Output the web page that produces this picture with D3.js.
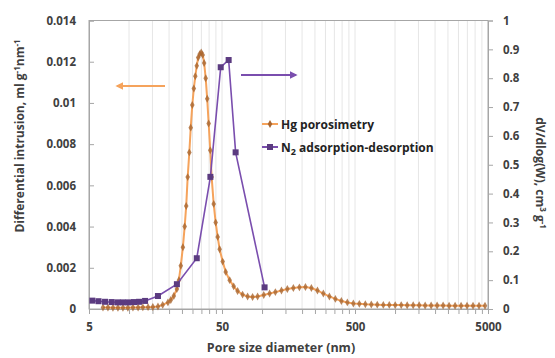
<!DOCTYPE html>
<html>
<head>
<meta charset="utf-8">
<script src="https://cdn.jsdelivr.net/npm/d3@7"></script>
<style>
  body { margin: 0; background: #fff; }
  text { font-family: "Open Sans", "DejaVu Sans", sans-serif; }
</style>
</head>
<body>
<div id="chart"></div>
<script>
// Hg porosimetry: pore diameter (nm) and differential intrusion (ml g-1 nm-1)
const hgDiameter = [6.37, 6.94, 7.57, 8.25, 9.0, 9.8, 10.7, 11.7, 12.7, 13.9, 15.1, 16.5, 17.9, 19.6,
  20.6, 21.7, 22.9, 23.7, 24.5, 25.4, 26.2, 26.9, 27.6, 28.4, 29.1, 29.9, 30.7, 31.5, 32.3, 33.1,
  34.0, 34.9, 35.8, 36.7, 37.7, 38.7, 39.7, 40.8, 41.8, 43.3, 44.8, 46.4, 48.0, 50.6, 53.3, 57.1,
  61.2, 65.5, 71.4, 77.9, 84.9, 92.6, 103, 114, 126, 140, 155, 172, 191, 212, 235, 261, 289, 321,
  356, 395, 438, 486, 539, 598, 663, 735, 816, 905, 1003, 1113, 1234, 1369, 1519, 1684, 1868,
  2072, 2299, 2550, 2828, 3137, 3479, 3859, 4280, 4747];
const hgIntrusion = [0.00007, 0.00007, 0.00006, 0.00006, 0.00006, 0.00006, 0.00007, 0.00007, 0.00008,
  0.00009, 0.0001, 0.00012, 0.0002, 0.00032, 0.00044, 0.00063, 0.00097, 0.0014, 0.0021, 0.003,
  0.004, 0.005, 0.0064, 0.0076, 0.0088, 0.0099, 0.0107, 0.0113, 0.0118, 0.0122, 0.01237, 0.01245,
  0.01233, 0.01194, 0.0112, 0.0102, 0.009, 0.0077, 0.0064, 0.0051, 0.0042, 0.0035, 0.0029, 0.0023,
  0.0018, 0.0014, 0.0011, 0.00087, 0.0007, 0.00061, 0.00058, 0.00061, 0.00068, 0.00075, 0.00082,
  0.0009, 0.00097, 0.00102, 0.00105, 0.00107, 0.00102, 0.0009, 0.00075, 0.00061, 0.00049, 0.00039,
  0.00032, 0.00027, 0.00025, 0.00023, 0.00022, 0.00021, 0.0002, 0.0002, 0.00019, 0.00019, 0.00018,
  0.00018, 0.00018, 0.00017, 0.00017, 0.00017, 0.00017, 0.00016, 0.00016, 0.00016, 0.00016,
  0.00016, 0.00016, 0.00016];

// N2 adsorption-desorption: pore diameter (nm) and dV/dlog(W) (cm3 g-1)
const n2Diameter = [5.3, 5.9, 6.6, 7.4, 8.2, 9.0, 9.9, 10.9, 11.9, 13.2, 16.5, 22.9, 32.3, 40.9,
  48.9, 56.1, 63.3, 104.5];
const n2Volume = [0.029, 0.027, 0.025, 0.024, 0.023, 0.023, 0.023, 0.024, 0.025, 0.028, 0.045,
  0.086, 0.176, 0.458, 0.838, 0.863, 0.543, 0.075];

const xTickValues = [5, 50, 500, 5000];
const xMinorValues = [10, 15, 20, 25, 30, 35, 40, 45, 100, 150, 200, 250, 300, 350, 400, 450,
  1000, 1500, 2000, 2500, 3000, 3500, 4000, 4500];
const yLeftTicks = [0, 0.002, 0.004, 0.006, 0.008, 0.01, 0.012, 0.014];
const yLeftLabels = ["0", "0.002", "0.004", "0.006", "0.008", "0.01", "0.012", "0.014"];
const yRightTicks = [0, 0.1, 0.2, 0.3, 0.4, 0.5, 0.6, 0.7, 0.8, 0.9, 1];
const yRightLabels = ["0", "0.1", "0.2", "0.3", "0.4", "0.5", "0.6", "0.7", "0.8", "0.9", "1"];

const width = 555, height = 358;
const margin = { left: 89, right: 67, top: 20.5, bottom: 49 };
const innerW = width - margin.left - margin.right;
const innerH = height - margin.top - margin.bottom;

const hgLine = "#f5a35c", hgMarker = "#a8652f";
const n2Line = "#7a4eae", n2Marker = "#5b3b80";
const textColor = "#404040";

const svg = d3.select("#chart").append("svg")
  .attr("width", width)
  .attr("height", height);

const g = svg.append("g").attr("transform", `translate(${margin.left},${margin.top})`);

const x = d3.scaleLog().domain([5, 5000]).range([0, innerW]);
const yL = d3.scaleLinear().domain([0, 0.014]).range([innerH, 0]);
const yR = d3.scaleLinear().domain([0, 1]).range([innerH, 0]);

// vertical gridlines
g.append("g").selectAll("line")
  .data(xMinorValues.concat([50, 500]))
  .join("line")
  .attr("x1", d => x(d)).attr("x2", d => x(d))
  .attr("y1", 0).attr("y2", innerH)
  .attr("stroke", "#e0e0e0").attr("stroke-width", 0.8);

// plot frame
g.append("rect")
  .attr("width", innerW).attr("height", innerH)
  .attr("fill", "none").attr("stroke", "#a6a6a6").attr("stroke-width", 1);

// bottom axis
const xAxis = g.append("g").attr("transform", `translate(0,${innerH})`)
  .call(d3.axisBottom(x).tickValues(xTickValues).tickFormat(d3.format("d")).tickSize(5).tickPadding(9));
g.append("g").attr("transform", `translate(0,${innerH})`)
  .call(d3.axisBottom(x).tickValues(xMinorValues).tickFormat("").tickSize(5))
  .call(a => a.select(".domain").remove());

// left axis (ticks inside)
const leftAxis = g.append("g")
  .call(d3.axisLeft(yL).tickValues(yLeftTicks).tickFormat((d, i) => yLeftLabels[i]).tickSize(-5).tickPadding(13));

// right axis (ticks outside)
const rightAxis = g.append("g").attr("transform", `translate(${innerW},0)`)
  .call(d3.axisRight(yR).tickValues(yRightTicks).tickFormat((d, i) => yRightLabels[i]).tickSize(5).tickPadding(10));

[xAxis, leftAxis, rightAxis].forEach(a => {
  a.selectAll(".domain").attr("stroke", "#a6a6a6");
  a.selectAll("text")
    .attr("fill", textColor)
    .style("font-size", "11.5px")
    .style("font-weight", "700");
});
g.selectAll(".tick line").attr("stroke", "#a6a6a6");

const n2Data = n2Diameter.map((d, i) => [d, n2Volume[i]]);
const hgData = hgDiameter.map((d, i) => [d, hgIntrusion[i]]);

// Hg series on left axis
g.append("path")
  .datum(hgData)
  .attr("fill", "none")
  .attr("stroke", hgLine)
  .attr("stroke-width", 2)
  .attr("d", d3.line().x(d => x(d[0])).y(d => yL(d[1])));

g.append("g").selectAll("path")
  .data(hgData)
  .join("path")
  .attr("transform", d => `translate(${x(d[0])},${yL(d[1])})`)
  .attr("d", d3.symbol(d3.symbolDiamond, 18))
  .attr("fill", hgMarker)
  .attr("fill-opacity", 0.8);

// N2 series on right axis
g.append("path")
  .datum(n2Data)
  .attr("fill", "none")
  .attr("stroke", n2Line)
  .attr("stroke-width", 1.6)
  .attr("d", d3.line().x(d => x(d[0])).y(d => yR(d[1])));

g.append("g").selectAll("rect")
  .data(n2Data)
  .join("rect")
  .attr("x", d => x(d[0]) - 3)
  .attr("y", d => yR(d[1]) - 3)
  .attr("width", 6).attr("height", 6)
  .attr("fill", n2Marker);

// axis-direction arrows
svg.append("defs").selectAll("marker")
  .data([["arrHg", hgLine], ["arrN2", n2Line]])
  .join("marker")
  .attr("id", d => d[0])
  .attr("viewBox", "0 0 10 10")
  .attr("refX", 8).attr("refY", 5)
  .attr("markerWidth", 4).attr("markerHeight", 4)
  .attr("orient", "auto")
  .append("path").attr("d", "M0,0L10,5L0,10Z").attr("fill", d => d[1]);

svg.append("line")
  .attr("x1", 165).attr("x2", 117).attr("y1", 86).attr("y2", 86)
  .attr("stroke", hgLine).attr("stroke-width", 2)
  .attr("marker-end", "url(#arrHg)");
svg.append("line")
  .attr("x1", 241).attr("x2", 296).attr("y1", 75).attr("y2", 75)
  .attr("stroke", n2Line).attr("stroke-width", 2)
  .attr("marker-end", "url(#arrN2)");

// legend
const legend = svg.append("g").attr("transform", "translate(262,124)");
legend.append("line").attr("x1", 0).attr("x2", 16).attr("y1", 0).attr("y2", 0)
  .attr("stroke", hgLine).attr("stroke-width", 2);
legend.append("path").attr("transform", "translate(8,0)")
  .attr("d", d3.symbol(d3.symbolDiamond, 18)).attr("fill", hgMarker);
legend.append("text").attr("x", 19).attr("y", 4.5)
  .style("font-size", "12px").style("font-weight", "700").attr("fill", "#222")
  .text("Hg porosimetry");
legend.append("line").attr("x1", 0).attr("x2", 16).attr("y1", 23).attr("y2", 23)
  .attr("stroke", n2Line).attr("stroke-width", 2);
legend.append("rect").attr("x", 5).attr("y", 20).attr("width", 6).attr("height", 6).attr("fill", n2Marker);
const n2Text = legend.append("text").attr("x", 19).attr("y", 27.5)
  .style("font-size", "12px").style("font-weight", "700").attr("fill", "#222");
n2Text.append("tspan").text("N");
n2Text.append("tspan").attr("dy", 3).style("font-size", "9px").text("2");
n2Text.append("tspan").attr("dy", -3).text(" adsorption-desorption");

// axis titles
svg.append("text")
  .attr("x", 281).attr("y", 352)
  .attr("text-anchor", "middle")
  .style("font-size", "12.5px").style("font-weight", "700").attr("fill", textColor)
  .text("Pore size diameter (nm)");

const leftTitle = svg.append("text")
  .attr("transform", "translate(24,136) rotate(-90)")
  .attr("text-anchor", "middle")
  .style("font-size", "12px").style("font-weight", "700").attr("fill", textColor);
leftTitle.append("tspan").text("Differential intrusion, ml g");
leftTitle.append("tspan").attr("dy", -4).style("font-size", "8px").text("-1");
leftTitle.append("tspan").attr("dy", 4).text("nm");
leftTitle.append("tspan").attr("dy", -4).style("font-size", "8px").text("-1");

const rightTitle = svg.append("text")
  .attr("transform", "translate(536,173) rotate(90)")
  .attr("text-anchor", "middle")
  .style("font-size", "12px").style("font-weight", "700").attr("fill", textColor);
rightTitle.append("tspan").text("dV/dlog(W), cm");
rightTitle.append("tspan").attr("dy", -4).style("font-size", "8px").text("3");
rightTitle.append("tspan").attr("dy", 4).text(" g");
rightTitle.append("tspan").attr("dy", -4).style("font-size", "8px").text("-1");
</script>
</body>
</html>
